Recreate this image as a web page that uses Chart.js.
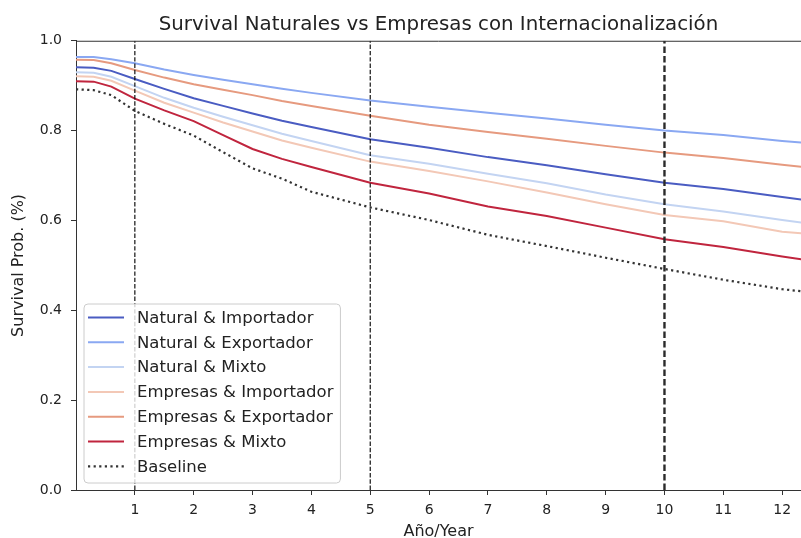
<!DOCTYPE html>
<html>
<head>
<meta charset="utf-8">
<script src="https://cdn.jsdelivr.net/npm/chart.js@4/dist/chart.umd.min.js"></script>
<style>
  html, body { margin: 0; padding: 0; background: #fff; overflow: hidden; }
  #wrap { width: 801px; height: 538px; }
</style>
</head>
<body>
<div id="wrap"><canvas id="c" width="801" height="538"></canvas></div>
<script>
// Survival curves by person type and internationalisation mode
const years = [0, 0.3, 0.6, 1, 1.5, 2, 2.5, 3, 3.5, 4, 5, 6, 7, 8, 9, 10, 11, 12, 12.35];

const naturalImportador = [0.941, 0.940, 0.933, 0.915, 0.893, 0.872, 0.855, 0.838, 0.822, 0.808, 0.781, 0.762, 0.741, 0.723, 0.703, 0.684, 0.670, 0.652, 0.646];
const naturalExportador = [0.964, 0.964, 0.959, 0.950, 0.936, 0.924, 0.913, 0.903, 0.893, 0.884, 0.867, 0.853, 0.840, 0.827, 0.813, 0.800, 0.790, 0.777, 0.773];
const naturalMixto      = [0.930, 0.929, 0.920, 0.899, 0.873, 0.851, 0.831, 0.812, 0.793, 0.777, 0.745, 0.726, 0.704, 0.683, 0.658, 0.636, 0.620, 0.601, 0.595];
const empresasImportador = [0.921, 0.920, 0.911, 0.889, 0.862, 0.840, 0.818, 0.798, 0.778, 0.762, 0.731, 0.710, 0.687, 0.662, 0.636, 0.612, 0.598, 0.575, 0.571];
const empresasExportador = [0.958, 0.957, 0.950, 0.935, 0.918, 0.903, 0.891, 0.879, 0.866, 0.855, 0.833, 0.813, 0.797, 0.782, 0.766, 0.751, 0.739, 0.724, 0.719];
const empresasMixto     = [0.910, 0.909, 0.898, 0.871, 0.845, 0.821, 0.790, 0.759, 0.737, 0.719, 0.684, 0.660, 0.631, 0.610, 0.584, 0.558, 0.541, 0.520, 0.513];
const baseline          = [0.892, 0.890, 0.879, 0.844, 0.815, 0.789, 0.752, 0.716, 0.693, 0.664, 0.629, 0.601, 0.568, 0.543, 0.517, 0.492, 0.468, 0.447, 0.442];

const seriesLabels = [
  'Natural & Importador', 'Natural & Exportador', 'Natural & Mixto',
  'Empresas & Importador', 'Empresas & Exportador', 'Empresas & Mixto', 'Baseline'
];
const seriesValues = [
  naturalImportador, naturalExportador, naturalMixto,
  empresasImportador, empresasExportador, empresasMixto, baseline
];
const seriesColors = ['#4a5cc2', '#8aa8f2', '#c3d4f2', '#f3c8b6', '#e69a7f', '#c0253e', '#333333'];

// Reference years marked with vertical dashed lines
const markerYears = [1, 5, 10];
const markerWidths = [1.2, 1.2, 2.4];

const yTicks = [0, 0.2, 0.4, 0.6, 0.8, 1.0];
const xTicks = [1, 2, 3, 4, 5, 6, 7, 8, 9, 10, 11, 12];

const FONT = 'DejaVu Sans';
const LEGEND_SIZE = 16.5;

const datasets = seriesValues.map((vals, i) => {
  const isBase = seriesLabels[i] === 'Baseline';
  return {
    label: seriesLabels[i],
    data: years.map((x, k) => ({ x: x, y: vals[k] })),
    borderColor: seriesColors[i],
    borderWidth: isBase ? 2.2 : 2,
    borderDash: isBase ? [2.2, 3.4] : [],
    borderCapStyle: 'butt',
    pointRadius: 0,
    tension: 0,
    fill: false,
    order: 10 - i
  };
});

markerYears.forEach((yr, i) => {
  const thick = markerWidths[i] > 2;
  datasets.push({
    label: '_marker' + yr,
    data: [{ x: yr, y: 0 }, { x: yr, y: 1 }],
    borderColor: thick ? '#2a2a2a' : '#111111',
    borderWidth: markerWidths[i],
    borderDash: thick ? [6.5, 3] : [4.4, 1.9],
    borderCapStyle: 'butt',
    pointRadius: 0,
    fill: false,
    order: 1
  });
});

// Top spine plus an in-plot legend box
const framePlugin = {
  id: 'frame',
  afterDatasetsDraw(chart) {
    const { ctx, chartArea: ca } = chart;
    ctx.save();
    ctx.strokeStyle = '#333';
    ctx.lineWidth = 1;
    ctx.beginPath();
    ctx.moveTo(ca.left, ca.top + 0.5);
    ctx.lineTo(ca.right, ca.top + 0.5);
    ctx.stroke();
    ctx.restore();
  },
  afterDraw(chart) {
    const { ctx, chartArea: ca } = chart;
    ctx.save();
    ctx.font = LEGEND_SIZE + 'px "' + FONT + '"';
    let maxW = 0;
    seriesLabels.forEach(t => { maxW = Math.max(maxW, ctx.measureText(t).width); });
    const rowH = 24.8;
    const boxH = 179;
    const boxW = 53 + maxW + 7;
    const bx = ca.left + 8;
    const by = ca.bottom - 7 - boxH;
    const r = 4;
    ctx.beginPath();
    ctx.moveTo(bx + r, by);
    ctx.lineTo(bx + boxW - r, by);
    ctx.arcTo(bx + boxW, by, bx + boxW, by + r, r);
    ctx.lineTo(bx + boxW, by + boxH - r);
    ctx.arcTo(bx + boxW, by + boxH, bx + boxW - r, by + boxH, r);
    ctx.lineTo(bx + r, by + boxH);
    ctx.arcTo(bx, by + boxH, bx, by + boxH - r, r);
    ctx.lineTo(bx, by + r);
    ctx.arcTo(bx, by, bx + r, by, r);
    ctx.closePath();
    ctx.fillStyle = 'rgba(255,255,255,0.8)';
    ctx.fill();
    ctx.strokeStyle = '#cccccc';
    ctx.lineWidth = 1;
    ctx.stroke();

    seriesLabels.forEach((t, i) => {
      const cy = by + 14.5 + i * rowH;
      const isBase = t === 'Baseline';
      ctx.beginPath();
      ctx.setLineDash(isBase ? [2.2, 3.4] : []);
      ctx.lineCap = 'butt';
      ctx.strokeStyle = seriesColors[i];
      ctx.lineWidth = isBase ? 2.2 : 2;
      ctx.moveTo(bx + 4, cy - 1);
      ctx.lineTo(bx + 40, cy - 1);
      ctx.stroke();
      ctx.setLineDash([]);
      ctx.fillStyle = '#222';
      ctx.textBaseline = 'middle';
      ctx.textAlign = 'left';
      ctx.fillText(t, bx + 53, cy);
    });
    ctx.restore();
  }
};

new Chart(document.getElementById('c'), {
  type: 'line',
  data: { datasets },
  plugins: [framePlugin],
  options: {
    responsive: false,
    devicePixelRatio: 1,
    animation: false,
    layout: { padding: 0 },
    plugins: {
      legend: { display: false },
      tooltip: { enabled: false },
      title: {
        display: true,
        text: 'Survival Naturales vs Empresas con Internacionalización',
        fullSize: false,
        color: '#222',
        font: { family: FONT, size: 19.8, weight: 'normal', lineHeight: 1.2 },
        padding: { top: 13, bottom: 4 }
      }
    },
    scales: {
      x: {
        type: 'linear',
        min: 0,
        max: 12.32,
        afterFit(scale) { scale.height = 48; },
        afterBuildTicks(scale) { scale.ticks = xTicks.map(v => ({ value: v })); },
        grid: {
          drawOnChartArea: false,
          drawTicks: true,
          tickLength: 5,
          tickColor: '#333'
        },
        border: { display: true, color: '#333', width: 1 },
        ticks: {
          color: '#222',
          padding: 7,
          maxRotation: 0,
          autoSkip: false,
          font: { family: FONT, size: 14 },
          callback: v => String(v)
        },
        title: {
          display: true,
          text: 'Año/Year',
          color: '#222',
          font: { family: FONT, size: 16 },
          padding: { top: 0, bottom: -3 }
        }
      },
      y: {
        min: 0,
        max: 1,
        afterFit(scale) { scale.width = 76; },
        afterBuildTicks(scale) { scale.ticks = yTicks.map(v => ({ value: v })); },
        grid: {
          drawOnChartArea: false,
          drawTicks: true,
          tickLength: 5,
          tickColor: '#333'
        },
        border: { display: true, color: '#333', width: 1 },
        ticks: {
          color: '#222',
          padding: 9,
          font: { family: FONT, size: 14 },
          callback: v => Number(v).toFixed(1)
        },
        title: {
          display: true,
          text: 'Survival Prob. (%)',
          color: '#222',
          font: { family: FONT, size: 16 },
          padding: { top: 9, bottom: 0 }
        }
      }
    }
  }
});
</script>
</body>
</html>
